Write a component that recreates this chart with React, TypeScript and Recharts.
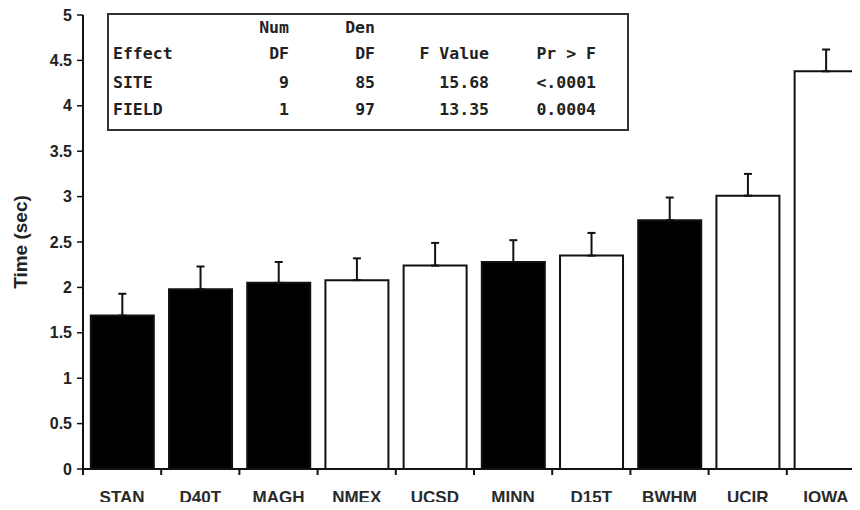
import React from 'react';
import { BarChart, Bar, XAxis, YAxis, ErrorBar, Cell } from 'recharts';

// mean response time per site, with the (upper) standard error
const sites = ['STAN', 'D40T', 'MAGH', 'NMEX', 'UCSD', 'MINN', 'D15T', 'BWHM', 'UCIR', 'IOWA'];
const meanTime = [1.69, 1.98, 2.05, 2.08, 2.24, 2.28, 2.35, 2.74, 3.01, 4.38];
const stdErr = [0.24, 0.25, 0.23, 0.24, 0.25, 0.24, 0.25, 0.25, 0.24, 0.24];
const siteGroup = ['A', 'A', 'A', 'B', 'B', 'A', 'B', 'A', 'B', 'B'];
const yTicks = [0, 0.5, 1, 1.5, 2, 2.5, 3, 3.5, 4, 4.5, 5];

// ANOVA table shown in the inset
const effects = ['SITE', 'FIELD'];
const numDF = ['9', '1'];
const denDF = ['85', '97'];
const fValue = ['15.68', '13.35'];
const prF = ['<.0001', '0.0004'];

const chartData = sites.map((site, i) => ({
  site,
  time: meanTime[i],
  err: [0, stdErr[i]],
  group: siteGroup[i],
}));

const groupFill: Record<string, string> = { A: '#000', B: '#fff' };

const SiteTick = (props: any) => {
  const { x, y, payload } = props;
  const half = payload.offset ?? 39;
  return (
    <g>
      <line x1={x - half} y1={y} x2={x - half} y2={y + 6} stroke="#111" strokeWidth={2} />
      <text
        x={x}
        y={y + 34}
        textAnchor="middle"
        fill="#2a2a2a"
        fontSize={17}
        fontWeight="bold"
        fontFamily="'Liberation Sans', Arial, sans-serif"
      >
        {payload.value}
      </text>
    </g>
  );
};

const mono: React.CSSProperties = {
  position: 'absolute',
  fontFamily: "'DejaVu Sans Mono', monospace",
  fontSize: 16.5,
  fontWeight: 'bold',
  color: '#222',
  lineHeight: '20px',
  whiteSpace: 'pre',
};

const Cell2 = ({ left, right, top, text }: { left?: number; right?: number; top: number; text: string }) => {
  const style: React.CSSProperties =
    right !== undefined
      ? { ...mono, top, left: right - 140, width: 140, textAlign: 'right' }
      : { ...mono, top, left };
  return <span style={style}>{text}</span>;
};

// column right edges inside the inset box
const colRight = [180, 266, 380, 487];
const rowTop = [3, 29, 58, 85];

const AnovaBox = () => (
  <div
    style={{
      position: 'absolute',
      left: 107,
      top: 13,
      width: 518,
      height: 114,
      border: '2px solid #333',
      background: '#fff',
    }}
  >
    <Cell2 right={colRight[0]} top={rowTop[0]} text="Num" />
    <Cell2 right={colRight[1]} top={rowTop[0]} text="Den" />
    <Cell2 left={4} top={rowTop[1]} text="Effect" />
    <Cell2 right={colRight[0]} top={rowTop[1]} text="DF" />
    <Cell2 right={colRight[1]} top={rowTop[1]} text="DF" />
    <Cell2 right={colRight[2]} top={rowTop[1]} text="F Value" />
    <Cell2 right={colRight[3]} top={rowTop[1]} text="Pr > F" />
    {effects.map((eff, i) => (
      <React.Fragment key={eff}>
        <Cell2 left={4} top={rowTop[2 + i]} text={eff} />
        <Cell2 right={colRight[0]} top={rowTop[2 + i]} text={numDF[i]} />
        <Cell2 right={colRight[1]} top={rowTop[2 + i]} text={denDF[i]} />
        <Cell2 right={colRight[2]} top={rowTop[2 + i]} text={fValue[i]} />
        <Cell2 right={colRight[3]} top={rowTop[2 + i]} text={prF[i]} />
      </React.Fragment>
    ))}
  </div>
);

export default function App() {
  return (
    <div style={{ position: 'relative', margin: -8, width: 860, height: 510, overflow: 'hidden', background: '#fff' }}>
      <BarChart
        width={868}
        height={510}
        data={chartData}
        margin={{ top: 15, right: 3, bottom: 0, left: 0 }}
        barCategoryGap="10%"
      >
        <XAxis
          dataKey="site"
          height={41}
          tickSize={0}
          tickMargin={0}
          tickLine={false}
          interval={0}
          axisLine={{ stroke: '#111', strokeWidth: 2 }}
          tick={<SiteTick />}
        />
        <YAxis
          width={83}
          domain={[0, 5]}
          ticks={yTicks}
          interval={0}
          tickSize={6}
          tickMargin={5}
          axisLine={{ stroke: '#111', strokeWidth: 2 }}
          tickLine={{ stroke: '#111', strokeWidth: 1.5 }}
          tick={{ fill: '#222', fontSize: 16, fontWeight: 'bold', fontFamily: "'Liberation Sans', Arial, sans-serif" }}
          label={{
            value: 'Time (sec)',
            angle: -90,
            position: 'insideLeft',
            offset: 20,
            style: {
              textAnchor: 'middle',
              fill: '#222',
              fontSize: 19,
              fontWeight: 'bold',
              fontFamily: "'Liberation Sans', Arial, sans-serif",
            },
          }}
        />
        <Bar dataKey="time" stroke="#111" strokeWidth={2} isAnimationActive={false}>
          {chartData.map((d) => (
            <Cell key={d.site} fill={groupFill[d.group]} />
          ))}
          <ErrorBar dataKey="err" width={4} stroke="#111" strokeWidth={2} direction="y" isAnimationActive={false} />
        </Bar>
      </BarChart>
      <AnovaBox />
    </div>
  );
}
